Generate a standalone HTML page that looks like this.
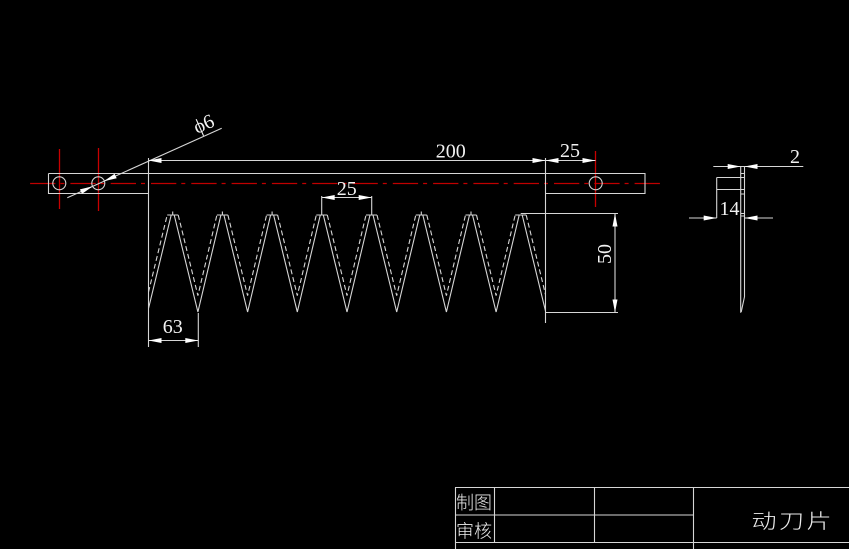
<!DOCTYPE html>
<html><head><meta charset="utf-8"><style>
html,body{margin:0;padding:0;background:#000;}
svg{display:block;}
.n{font-family:"Liberation Serif",serif;font-size:20px;fill:#f2f2f2;}
.c{font-family:"Liberation Sans","Noto Sans CJK SC",sans-serif;font-size:18px;fill:#ececec;font-weight:300;}
</style></head><body>
<svg width="849" height="549" viewBox="0 0 849 549" xmlns="http://www.w3.org/2000/svg">
<rect width="849" height="549" fill="#000"/>
<!-- centerline -->
<line x1="27" y1="183.5" x2="663" y2="183.5" stroke="#c00000" stroke-width="1.3" stroke-dasharray="25.3 5 4 6" stroke-dashoffset="37.2"/>
<g stroke="#c80000" stroke-width="1.3">
<line x1="59.5" y1="149" x2="59.5" y2="209"/>
<line x1="98.5" y1="148" x2="98.5" y2="211"/>
<line x1="595.5" y1="151" x2="595.5" y2="207"/>
</g>
<g fill="none" stroke="#d6d6d6" stroke-width="1.1">
<!-- bar -->
<path d="M48.5 173.5 H645 V193.5 H545.5 M48.5 173.5 V193.5 H148.5"/>
<circle cx="59.3" cy="183.3" r="6.5"/>
<circle cx="98.3" cy="183.3" r="6.5"/>
<circle cx="595.7" cy="183.3" r="6.5"/>
<!-- blade edges / extension -->
<line x1="148.5" y1="158" x2="148.5" y2="347"/>
<line x1="545.5" y1="158" x2="545.5" y2="323"/>
<!-- teeth solid -->
<path d="M148.5,308.5 L171.2,215 H174.2 L197.9,312 L220.9,215 H223.9 L247.6,312 L270.6,215 H273.6 L297.3,312 L320.3,215 H323.3 L347,312 L370,215 H373 L396.7,312 L419.8,215 H422.8 L446.4,312 L469.5,215 H472.5 L496.1,312 L519.2,215 H522.2 L545.5,311"/>
<!-- flat tops & ticks -->
<path d="M167.2,215H178.2 M216.9,215H227.9 M266.6,215H277.6 M316.3,215H327.3 M366,215H377 M415.8,215H426.8 M465.5,215H476.5 M515.2,215H526.2
M172.7,211.5V215 M222.4,211.5V215 M272.1,211.5V215 M421.3,211.5V215 M471,211.5V215"/>
<!-- teeth dashed -->
<path stroke-dasharray="5 3" d="M148.5,292 L167.2,215 M178.2,215 L197.9,295.6 L216.9,215 M227.9,215 L247.6,295.6 L266.6,215 M277.6,215 L297.3,295.6 L316.3,215 M327.3,215 L347,295.6 L366,215 M377,215 L396.7,295.6 L415.8,215 M426.8,215 L446.4,295.6 L465.5,215 M476.5,215 L496.1,295.6 L515.2,215 M526.2,215 L545.5,294.5"/>
<!-- dims -->
<line x1="148.5" y1="160.5" x2="595.5" y2="160.5"/>
<line x1="321.7" y1="197.5" x2="371.7" y2="197.5"/>
<line x1="321.7" y1="196" x2="321.7" y2="215"/>
<line x1="371.7" y1="196" x2="371.7" y2="215"/>
<line x1="148.5" y1="340.5" x2="198.3" y2="340.5"/>
<line x1="198.3" y1="313" x2="198.3" y2="347"/>
<line x1="615" y1="213.5" x2="615" y2="312.5"/>
<line x1="520.7" y1="213.5" x2="618" y2="213.5"/>
<line x1="545.5" y1="312.5" x2="618" y2="312.5"/>
<line x1="67.3" y1="197.7" x2="221.7" y2="128.3"/>
<!-- side view -->
<line x1="740.7" y1="166.5" x2="740.7" y2="312.7"/>
<path d="M744.5,166.5 V296.7 L741.2,312"/>
<path d="M716.7,177.5 H744.5 M716.7,189.5 H744.5 M716.7,177.5 V218"/>
<path d="M740.7,173.5H744.5 M740.7,194H744.5 M740.7,213.5H744.5 M740.7,216H744.5"/>
<line x1="713.3" y1="166.5" x2="803.3" y2="166.5"/>
<line x1="689" y1="218" x2="716.7" y2="218"/>
<line x1="744.5" y1="218" x2="773" y2="218"/>
<!-- title block -->
<path d="M455 487.5 H849 M455.5 487.5 V549 M455 515 H693.5 M455 542.5 H849 M494.5 487.5 V542.5 M594.5 487.5 V542.5 M693.5 487.5 V549"/>
</g>
<!-- arrows -->
<g fill="#ffffff">
<polygon points="148.5,160.5 161.5,158 161.5,163"/>
<polygon points="545.5,160.5 532.5,158 532.5,163"/>
<polygon points="545.5,160.5 558.5,158 558.5,163"/>
<polygon points="595.5,160.5 582.5,158 582.5,163"/>
<polygon points="321.7,197.5 334.7,195 334.7,200"/>
<polygon points="371.7,197.5 358.7,195 358.7,200"/>
<polygon points="148.5,340.5 161.5,338 161.5,343"/>
<polygon points="198.3,340.5 185.3,338 185.3,343"/>
<polygon points="615,213.5 612.5,226.5 617.5,226.5"/>
<polygon points="615,312.5 612.5,299.5 617.5,299.5"/>
<polygon points="740.7,166.5 727.7,164 727.7,169"/>
<polygon points="744.5,166.5 757.5,164 757.5,169"/>
<polygon points="716.7,218 703.7,215.5 703.7,220.5"/>
<polygon points="744.5,218 757.5,215.5 757.5,220.5"/>
<polygon points="92.8,186.3 81.97,193.91 79.91,189.35"/>
<polygon points="103.8,181.3 116.69,178.25 114.63,173.69"/>
</g>
<!-- dimension texts -->
<text class="n" x="450.7" y="157.5" text-anchor="middle">200</text>
<text class="n" x="570" y="157" text-anchor="middle">25</text>
<text class="n" x="346.7" y="195" text-anchor="middle">25</text>
<text class="n" x="172.7" y="333" text-anchor="middle">63</text>
<text class="n" transform="translate(611,254) rotate(-90)" text-anchor="middle">50</text>
<text class="n" x="729.5" y="215" text-anchor="middle">14</text>
<text class="n" x="795" y="163" text-anchor="middle">2</text>
<text class="n" transform="translate(197,134) rotate(-24)">ϕ6</text>
<!-- title block text -->
<text class="c" x="456" y="509">制图</text>
<text class="c" x="456" y="537.5">审核</text>
<text class="c" style="font-size:20px;letter-spacing:2px" transform="translate(751.5,528) scale(1.25,1)">动刀片</text>
</svg>
</body></html>
